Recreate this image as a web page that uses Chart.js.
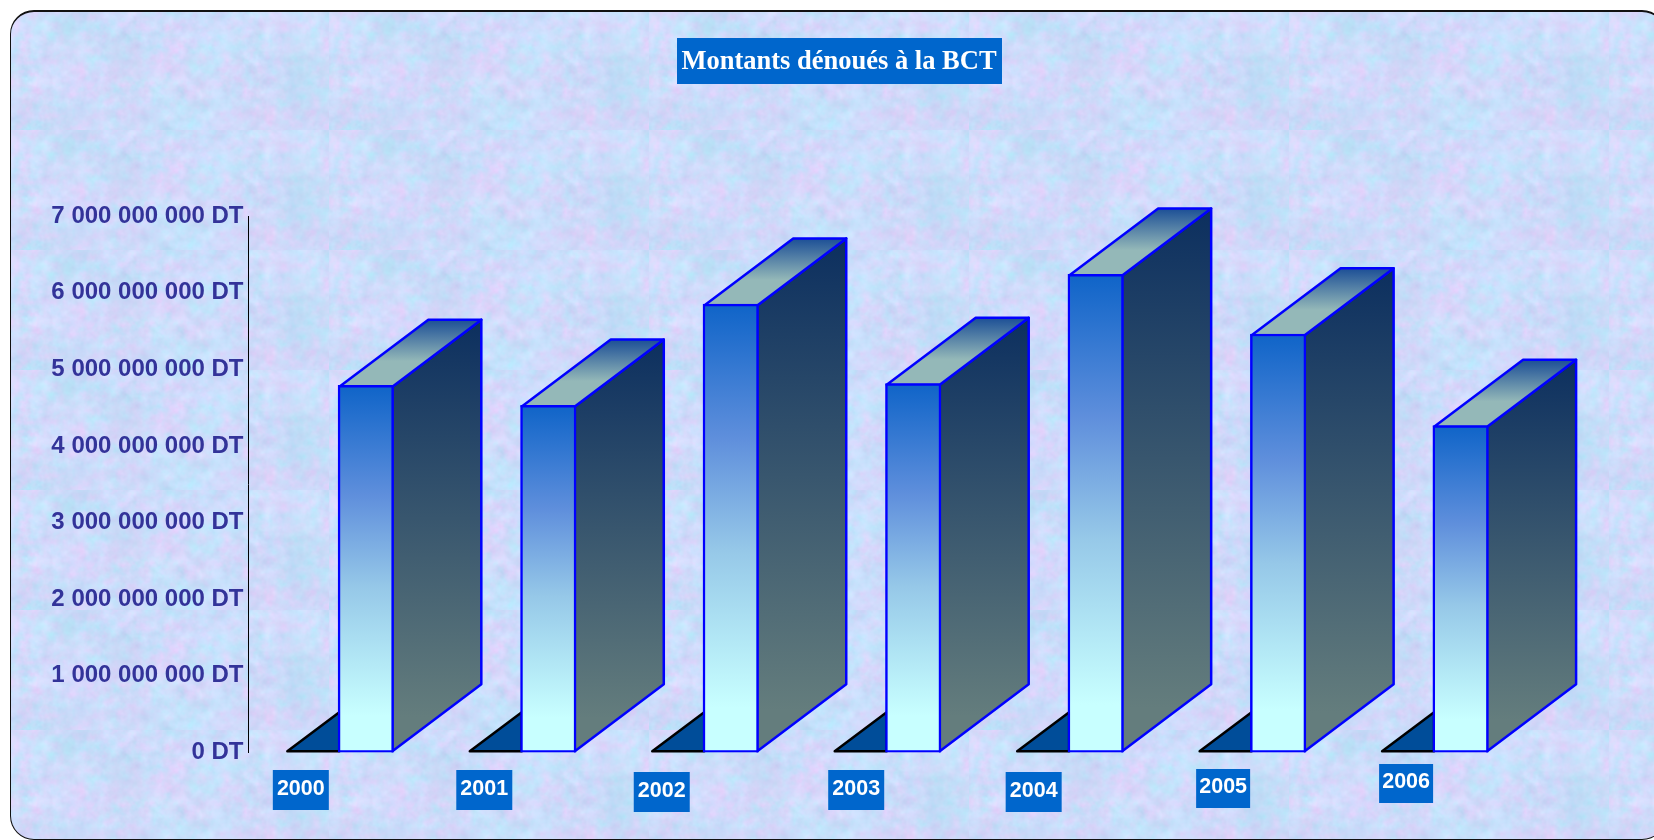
<!DOCTYPE html>
<html lang="fr">
<head>
<meta charset="utf-8">
<title>Montants dénoués à la BCT</title>
<style>
  html, body { margin: 0; padding: 0; background: #fff; }
  #page { position: relative; width: 1654px; height: 840px; overflow: hidden; }
  #panel {
    position: absolute; left: 9.5px; top: 10px; width: 1656px; height: 829.5px;
    box-sizing: border-box; border: 1.5px solid #111; border-top-width: 2px; border-radius: 24px;
    background-image: url("data:image/svg+xml;utf8,<svg xmlns='http://www.w3.org/2000/svg' width='320' height='120'><filter id='n' x='0' y='0' width='100%' height='100%' color-interpolation-filters='sRGB'><feTurbulence type='fractalNoise' baseFrequency='0.09' numOctaves='3' seed='3' result='f'/><feTurbulence type='fractalNoise' baseFrequency='0.022' numOctaves='2' seed='11' result='c'/><feComposite in='f' in2='c' operator='arithmetic' k1='0' k2='0.5' k3='0.5' k4='0'/><feColorMatrix values='0.32 -0.12 0 0 0.70  0 0.20 -0.08 0 0.80  0.08 0.08 0 0 0.90  0 0 0 0 1'/></filter><rect width='320' height='120' filter='url(%23n)'/></svg>");
    background-position: -2px -2px;
  }
  canvas { position: absolute; left: 0; top: 0; }
</style>
</head>
<body>
<div id="page">
  <div id="panel"></div>
  <canvas id="chart" width="1654" height="840"></canvas>
</div>
<script src="https://cdn.jsdelivr.net/npm/chart.js@4"></script>
<script>
const chartTitle = 'Montants dénoués à la BCT';
const years = ['2000', '2001', '2002', '2003', '2004', '2005', '2006'];
const amounts = [4790000000, 4530000000, 5850000000, 4815000000, 6240000000, 5460000000, 4265000000];
const yTicks = [0, 1000000000, 2000000000, 3000000000, 4000000000, 5000000000, 6000000000, 7000000000];

// boites des annees : decalage par rapport a la barre, haut, largeur, hauteur
const labelBoxes = [
    [-93, 770, 56, 40], [-92, 770, 56, 40], [-97, 772, 56, 40], [-85, 770, 56, 40],
    [-90, 772, 56, 40], [-82, 769, 54, 39], [-81.5, 764, 54, 39]
];
const depthX = 89;
const depthY = 67;
const shadowWidth = 52;
const shadowHeight = 39;

function pathOf(ctx, points) {
    ctx.beginPath();
    points.forEach(([x, y], i) => (i ? ctx.lineTo(x, y) : ctx.moveTo(x, y)));
    ctx.closePath();
}

// Faces du bloc dessinees derriere la face avant
const blockPlugin = {
    id: 'block',
    beforeDatasetsDraw(chart) {
        const ctx = chart.ctx;
        chart.getDatasetMeta(0).data.forEach(bar => {
            const left = bar.x - bar.width / 2 + 1.25;
            const right = bar.x + bar.width / 2 - 1.25;
            const top = bar.y + 1.25;
            const bottom = bar.base - 1.25;
            ctx.save();
            ctx.lineJoin = 'round';
            ctx.lineWidth = 2.5;

            // ombre au sol
            pathOf(ctx, [[left - shadowWidth, bottom], [left, bottom - shadowHeight], [left, bottom]]);
            ctx.fillStyle = '#004d99';
            ctx.fill();
            ctx.strokeStyle = '#000';
            ctx.stroke();

            // face laterale
            const side = ctx.createLinearGradient(0, top - depthY, 0, bottom);
            side.addColorStop(0, '#0c2f5f');
            side.addColorStop(0.92, '#647d7d');
            side.addColorStop(1, '#647d7d');
            pathOf(ctx, [[right, top], [right + depthX, top - depthY], [right + depthX, bottom - depthY], [right, bottom]]);
            ctx.fillStyle = side;
            ctx.fill();
            ctx.strokeStyle = '#0000ff';
            ctx.stroke();

            // dessus
            const lid = ctx.createLinearGradient(0, top - depthY, 0, top);
            lid.addColorStop(0, '#1c4f96');
            lid.addColorStop(0.62, '#94b8b8');
            lid.addColorStop(1, '#94b8b8');
            pathOf(ctx, [[left, top], [left + depthX, top - depthY], [right + depthX, top - depthY], [right, top]]);
            ctx.fillStyle = lid;
            ctx.fill();
            ctx.stroke();
            ctx.restore();
        });
    }
};

// Fond du titre et etiquettes des annees
const labelPlugin = {
    id: 'labels',
    beforeDraw(chart) {
        const ctx = chart.ctx;
        ctx.save();
        ctx.fillStyle = '#0066cc';
        ctx.fillRect(677, 38, 325, 46);
        ctx.restore();
    },
    afterDraw(chart) {
        const ctx = chart.ctx;
        ctx.save();
        ctx.font = 'bold 21.5px "Liberation Sans", Arial, sans-serif';
        ctx.textAlign = 'center';
        ctx.textBaseline = 'middle';
        years.forEach((year, i) => {
            const [dx, top, w, h] = labelBoxes[i];
            const x = chart.scales.x.getPixelForValue(Number(year)) + dx;
            ctx.fillStyle = '#0066cc';
            ctx.fillRect(x, top, w, h);
            ctx.fillStyle = '#fff';
            ctx.fillText(year, x + w / 2, top + h / 2 - 1);
        });
        ctx.restore();
    }
};

new Chart(document.getElementById('chart').getContext('2d'), {
    type: 'bar',
    data: {
        datasets: [{
            label: chartTitle,
            data: years.map((year, i) => ({ x: Number(year), y: amounts[i] })),
            barThickness: 55.5,
            borderWidth: 2.5,
            borderSkipped: false,
            borderColor: '#0000ff',
            backgroundColor: c => {
                const area = c.chart.chartArea;
                if (!area || !c.raw) return '#0f64c8';
                const top = c.chart.scales.y.getPixelForValue(c.raw.y);
                const gradient = c.chart.ctx.createLinearGradient(0, top, 0, area.bottom);
                gradient.addColorStop(0, '#0f64c8');
                gradient.addColorStop(0.3, '#5f8fdc');
                gradient.addColorStop(0.55, '#96c8e8');
                gradient.addColorStop(0.9, '#c8ffff');
                gradient.addColorStop(1, '#c8ffff');
                return gradient;
            }
        }]
    },
    options: {
        responsive: false,
        animation: false,
        devicePixelRatio: 1,
        layout: { padding: { left: 24, right: 0, top: 0, bottom: 87.5 } },
        plugins: {
            legend: { display: false },
            tooltip: { enabled: false },
            title: {
                display: true,
                text: chartTitle,
                color: '#fff',
                font: { family: '"Liberation Serif", "Times New Roman", serif', size: 26.5, weight: 'bold', lineHeight: 1.2 },
                padding: { top: 46.4, bottom: 137.8 }
            }
        },
        scales: {
            x: { type: 'linear', display: false, offset: false, min: 1999.357, max: 2007.06 },
            y: {
                min: 0,
                max: 7000000000,
                afterFit: axis => { axis.width = 224.5; },
                afterBuildTicks: axis => { axis.ticks = yTicks.map(value => ({ value })); },
                grid: { display: false, drawTicks: false },
                border: { display: true, color: '#000', width: 1 },
                ticks: {
                    padding: 5,
                    color: '#333399',
                    font: { family: '"Liberation Sans", Arial, sans-serif', size: 24, weight: 'bold' },
                    callback: value => String(value).replace(/\B(?=(\d{3})+$)/g, ' ') + ' DT'
                }
            }
        }
    },
    plugins: [blockPlugin, labelPlugin]
});
</script>
</body>
</html>
